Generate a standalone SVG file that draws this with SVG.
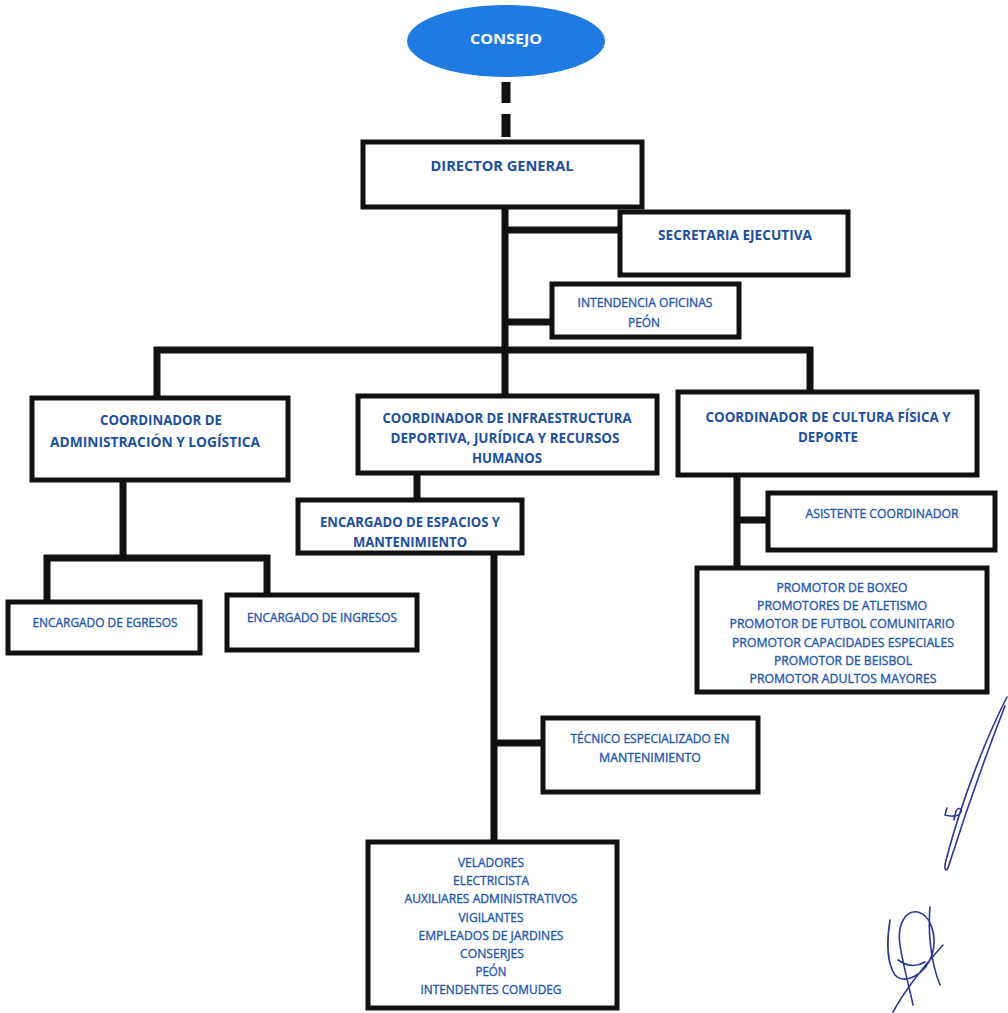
<svg xmlns="http://www.w3.org/2000/svg" width="1008" height="1013" viewBox="0 0 1008 1013">
<style>
.box{fill:#fff;stroke:#111;stroke-width:5}
.ln{stroke:#111;stroke-width:7;fill:none;stroke-linecap:square}
.b{font-family:"Open Sans","Liberation Sans",sans-serif;font-weight:bold;font-size:14px;fill:#1d4f9f;text-anchor:middle}
.r{font-family:"Open Sans","Liberation Sans",sans-serif;font-size:12.5px;fill:#2456ae;stroke:#2456ae;stroke-width:0.35px;text-anchor:middle}
.sig{fill:none;stroke:#2b3796;stroke-width:1.6;stroke-linecap:round;stroke-linejoin:round}
</style>
<rect width="1008" height="1013" fill="#fff"/>
<g id="connectors">
<line x1="506" y1="82" x2="506" y2="103" stroke="#111" stroke-width="9"/>
<line x1="506" y1="114" x2="506" y2="137" stroke="#111" stroke-width="9"/>
<path class="ln" d="M505 207 V350 M505 230 H620 M505 322 H552 M157 350 H810 M157 350 V398 M810 350 V392 M505 350 V396"/>
<path class="ln" d="M123 480 V558 M47 558 H267 M47 558 V602 M267 558 V595"/>
<path class="ln" d="M417 473 V500 M494 553 V842 M494 743 H543"/>
<path class="ln" d="M737 477 V568 M737 520 H768"/>
</g>
<g id="consejo"><ellipse cx="506" cy="41" rx="99" ry="36" fill="#1f7be2"/><text x="506" y="44" class="b" style="fill:#fff;font-size:15px" textLength="72" lengthAdjust="spacingAndGlyphs">CONSEJO</text></g>
<g id="director"><rect class="box" x="363" y="142" width="279" height="65"/><text class="b" x="502" y="171" textLength="143" lengthAdjust="spacingAndGlyphs">DIRECTOR GENERAL</text></g>
<g id="secretaria"><rect class="box" x="620" y="212" width="228" height="63"/><text class="b" x="735" y="240" textLength="154" lengthAdjust="spacingAndGlyphs">SECRETARIA EJECUTIVA</text></g>
<g id="intendencia"><rect class="box" x="552" y="284" width="187" height="53"/><text class="r" x="645" y="307" textLength="135" lengthAdjust="spacingAndGlyphs">INTENDENCIA OFICINAS</text><text class="r" x="644" y="327" textLength="32" lengthAdjust="spacingAndGlyphs">PEÓN</text></g>
<g id="coord-admin"><rect class="box" x="32" y="398" width="256" height="82"/><text class="b" x="161" y="425" textLength="122" lengthAdjust="spacingAndGlyphs">COORDINADOR DE</text><text class="b" x="155" y="447" textLength="210" lengthAdjust="spacingAndGlyphs">ADMINISTRACIÓN Y LOGÍSTICA</text></g>
<g id="coord-infra"><rect class="box" x="358" y="396" width="299" height="77"/><text class="b" x="507" y="423" textLength="249" lengthAdjust="spacingAndGlyphs">COORDINADOR DE INFRAESTRUCTURA</text><text class="b" x="505" y="443" textLength="229" lengthAdjust="spacingAndGlyphs">DEPORTIVA, JURÍDICA Y RECURSOS</text><text class="b" x="507" y="463" textLength="70" lengthAdjust="spacingAndGlyphs">HUMANOS</text></g>
<g id="coord-cultura"><rect class="box" x="678" y="392" width="299" height="83"/><text class="b" x="828" y="422" textLength="245" lengthAdjust="spacingAndGlyphs">COORDINADOR DE CULTURA FÍSICA Y</text><text class="b" x="828" y="442" textLength="60" lengthAdjust="spacingAndGlyphs">DEPORTE</text></g>
<g id="egresos"><rect class="box" x="8" y="602" width="192" height="51"/><text class="r" x="105" y="627" textLength="145" lengthAdjust="spacingAndGlyphs">ENCARGADO DE EGRESOS</text></g>
<g id="ingresos"><rect class="box" x="227" y="595" width="190" height="55"/><text class="r" x="322" y="622" textLength="150" lengthAdjust="spacingAndGlyphs">ENCARGADO DE INGRESOS</text></g>
<g id="espacios"><rect class="box" x="298" y="500" width="224" height="53"/><text class="b" x="410" y="527" textLength="180" lengthAdjust="spacingAndGlyphs">ENCARGADO DE ESPACIOS Y</text><text class="b" x="410" y="547" textLength="114" lengthAdjust="spacingAndGlyphs">MANTENIMIENTO</text></g>
<g id="asistente"><rect class="box" x="768" y="493" width="227" height="57"/><text class="r" x="882" y="518" textLength="153" lengthAdjust="spacingAndGlyphs">ASISTENTE COORDINADOR</text></g>
<g id="promotores"><rect class="box" x="697" y="568" width="290" height="124"/>
<text class="r" x="842" y="592" textLength="131" lengthAdjust="spacingAndGlyphs">PROMOTOR DE BOXEO</text>
<text class="r" x="842" y="610" textLength="170" lengthAdjust="spacingAndGlyphs">PROMOTORES DE ATLETISMO</text>
<text class="r" x="842" y="628" textLength="225" lengthAdjust="spacingAndGlyphs">PROMOTOR DE FUTBOL COMUNITARIO</text>
<text class="r" x="843" y="647" textLength="222" lengthAdjust="spacingAndGlyphs">PROMOTOR CAPACIDADES ESPECIALES</text>
<text class="r" x="843" y="665" textLength="138" lengthAdjust="spacingAndGlyphs">PROMOTOR DE BEISBOL</text>
<text class="r" x="843" y="683" textLength="187" lengthAdjust="spacingAndGlyphs">PROMOTOR ADULTOS MAYORES</text></g>
<g id="tecnico"><rect class="box" x="543" y="718" width="215" height="74"/><text class="r" x="650" y="743" textLength="159" lengthAdjust="spacingAndGlyphs">TÉCNICO ESPECIALIZADO EN</text><text class="r" x="650" y="762" textLength="102" lengthAdjust="spacingAndGlyphs">MANTENIMIENTO</text></g>
<g id="personal"><rect class="box" x="368" y="842" width="249" height="166"/>
<text class="r" x="491" y="867" textLength="66" lengthAdjust="spacingAndGlyphs">VELADORES</text>
<text class="r" x="491" y="885" textLength="76" lengthAdjust="spacingAndGlyphs">ELECTRICISTA</text>
<text class="r" x="491" y="903" textLength="173" lengthAdjust="spacingAndGlyphs">AUXILIARES ADMINISTRATIVOS</text>
<text class="r" x="491" y="922" textLength="65" lengthAdjust="spacingAndGlyphs">VIGILANTES</text>
<text class="r" x="491" y="940" textLength="145" lengthAdjust="spacingAndGlyphs">EMPLEADOS DE JARDINES</text>
<text class="r" x="492" y="958" textLength="64" lengthAdjust="spacingAndGlyphs">CONSERJES</text>
<text class="r" x="491" y="976" textLength="31" lengthAdjust="spacingAndGlyphs">PEÓN</text>
<text class="r" x="491" y="994" textLength="141" lengthAdjust="spacingAndGlyphs">INTENDENTES COMUDEG</text></g>
<g id="firmas">
<path class="sig" d="M1007 697 C985 740 962 800 946 860 C944 868 945 873 948 868 C960 830 980 770 1005 706"/>
<path class="sig" d="M947 808 L945 815 C950 816 958 818 961 812 C962 808 958 807 956 811 L954 820"/>
<path class="sig" d="M890 920 C886 945 888 965 895 975 C905 985 925 975 932 955 C938 935 930 915 918 912 C905 910 897 925 900 945 C903 965 910 990 913 1005 M930 907 C928 930 930 960 940 985 M943 945 C925 965 905 990 893 1012 M898 960 C905 965 915 968 925 962"/>
</g>
</svg>
